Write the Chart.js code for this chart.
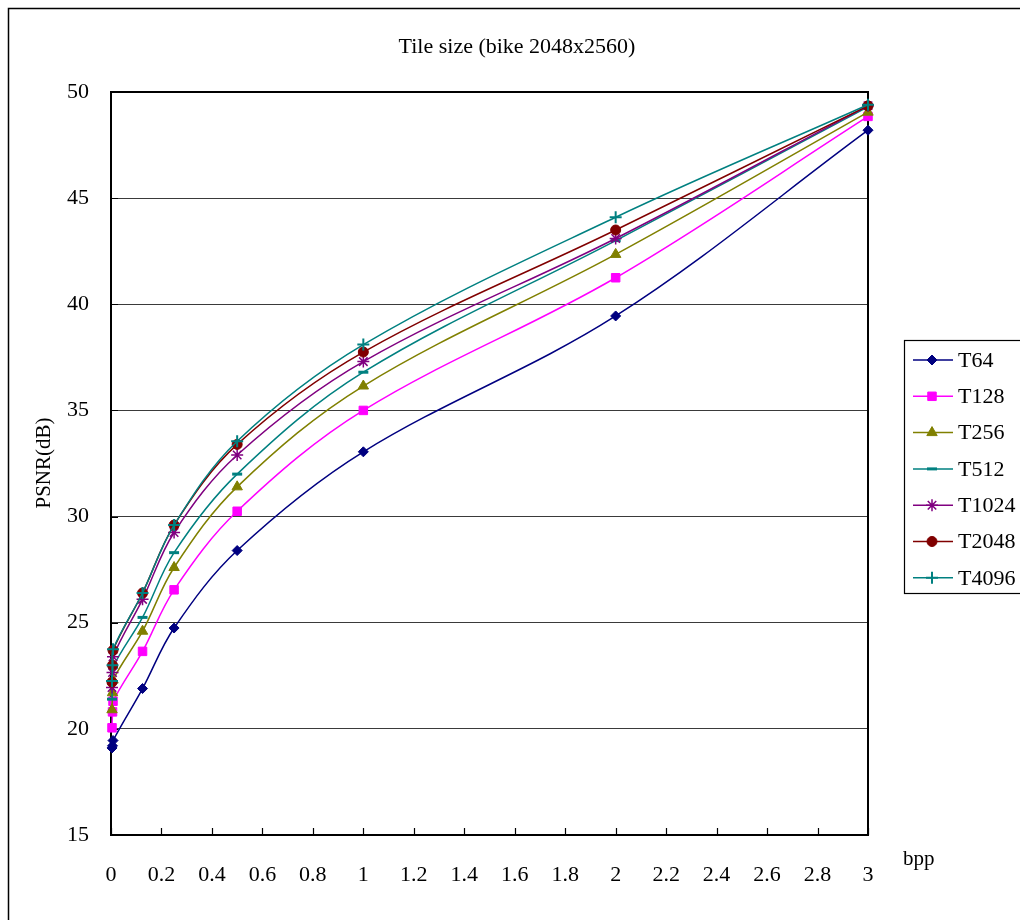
<!DOCTYPE html>
<html>
<head>
<meta charset="utf-8">
<title>Tile size (bike 2048x2560)</title>
<script src="https://cdn.jsdelivr.net/npm/chart.js@4.4.1/dist/chart.umd.min.js"></script>
<style>
  html, body { margin: 0; padding: 0; background: #fff; }
  #wrap { width: 1020px; height: 920px; }
</style>
</head>
<body>
<div id="wrap"><canvas id="chart" width="1020" height="920"></canvas></div>
<script>
// bpp values (first three sit right against the y axis)
var BPP = [0.004, 0.006, 0.008, 0.125, 0.25, 0.5, 1, 2, 3];

var T64   = [19.1, 19.2, 19.45, 21.9, 24.75, 28.4, 33.05, 39.45, 48.2];
var T128  = [20.05, 20.8, 21.3, 23.65, 26.55, 30.25, 35.0, 41.25, 48.85];
var T256  = [20.9, 21.7, 22.3, 24.6, 27.6, 31.4, 36.15, 42.35, 49.05];
var T512  = [21.4, 22.2, 22.9, 25.25, 28.3, 32.0, 36.8, 43.0, 49.3];
var T1024 = [21.95, 22.65, 23.4, 26.1, 29.25, 32.9, 37.3, 43.1, 49.35];
var T2048 = [22.2, 23.0, 23.7, 26.4, 29.6, 33.4, 37.75, 43.5, 49.35];
var T4096 = [22.25, 23.0, 23.75, 26.4, 29.6, 33.55, 38.1, 44.1, 49.4];

var SERIES_NAMES = ['T64', 'T128', 'T256', 'T512', 'T1024', 'T2048', 'T4096'];
var SERIES_DATA = [T64, T128, T256, T512, T1024, T2048, T4096];

var X_MIN = 0, X_MAX = 3, X_STEP = 0.2;
var Y_MIN = 15, Y_MAX = 50, Y_STEP = 5;

var STYLES = [
  { color: '#000080', point: 'rectRot',  radius: 5,   bw: 1 },
  { color: '#ff00ff', point: 'rect',     radius: 6,   bw: 1 },
  { color: '#808000', point: 'triangle', radius: 6,   bw: 1 },
  { color: '#008080', point: 'line',     radius: 5,   bw: 3 },
  { color: '#800080', point: 'star',     radius: 6,   bw: 1.5 },
  { color: '#800000', point: 'circle',   radius: 5,   bw: 1 },
  { color: '#008080', point: 'cross',    radius: 6,   bw: 2 }
];

var FONT = "'Liberation Serif', 'Times New Roman', serif";

function xy(arr) {
  return arr.map(function (v, i) { return { x: BPP[i], y: v }; });
}

var datasets = SERIES_NAMES.map(function (name, i) {
  var s = STYLES[i];
  return {
    label: name,
    data: xy(SERIES_DATA[i]),
    borderColor: s.color,
    backgroundColor: s.color,
    borderWidth: 1.5,
    pointStyle: s.point,
    pointRadius: s.radius,
    pointBorderWidth: s.bw,
    pointBorderColor: s.color,
    pointBackgroundColor: s.color,
    tension: 0.35,
    clip: false,
    order: SERIES_NAMES.length - 1 - i
  };
});

// frame, plot border, inward ticks, titles and legend
var decor = {
  id: 'decor',
  beforeDraw: function (chart) {
    var ctx = chart.ctx;
    ctx.save();
    ctx.fillStyle = '#fff';
    ctx.fillRect(0, 0, chart.width, chart.height);
    ctx.strokeStyle = '#000';
    ctx.lineWidth = 1.5;
    ctx.beginPath();
    ctx.moveTo(8.5, chart.height + 5);
    ctx.lineTo(8.5, 8.5);
    ctx.lineTo(chart.width + 5, 8.5);
    ctx.stroke();
    ctx.restore();
  },
  beforeDatasetsDraw: function (chart) {
    var ctx = chart.ctx, a = chart.chartArea;
    var xs = chart.scales.x, ys = chart.scales.y;
    ctx.save();
    ctx.strokeStyle = '#000';
    ctx.lineWidth = 2;
    ctx.strokeRect(a.left, a.top, a.right - a.left, a.bottom - a.top);
    ctx.lineWidth = 1.2;
    ctx.beginPath();
    xs.ticks.forEach(function (t) {
      var px = Math.round(xs.getPixelForValue(t.value)) + 0.5;
      ctx.moveTo(px, a.bottom);
      ctx.lineTo(px, a.bottom - 7);
    });
    ys.ticks.forEach(function (t) {
      var py = Math.round(ys.getPixelForValue(t.value)) + 0.5;
      ctx.moveTo(a.left, py);
      ctx.lineTo(a.left + 7, py);
    });
    ctx.stroke();
    ctx.restore();
  },
  afterDraw: function (chart) {
    var ctx = chart.ctx;
    ctx.save();
    ctx.fillStyle = '#000';
    ctx.font = '22px ' + FONT;
    ctx.textAlign = 'center';
    ctx.textBaseline = 'middle';
    ctx.fillText('Tile size (bike 2048x2560)', 517, 47);

    ctx.font = '21px ' + FONT;
    ctx.textAlign = 'left';
    ctx.fillText('bpp', 903, 859);

    ctx.save();
    ctx.translate(44, 463);
    ctx.rotate(-Math.PI / 2);
    ctx.textAlign = 'center';
    ctx.fillText('PSNR(dB)', 0, 0);
    ctx.restore();

    // legend box
    ctx.strokeStyle = '#000';
    ctx.lineWidth = 1.2;
    ctx.strokeRect(904.5, 340.5, 200, 253);
    chart.data.datasets.forEach(function (ds, i) {
      var y = 360 + i * 36.3;
      ctx.strokeStyle = ds.borderColor;
      ctx.lineWidth = 1.5;
      ctx.beginPath();
      ctx.moveTo(913, y);
      ctx.lineTo(953, y);
      ctx.stroke();
      ctx.fillStyle = ds.pointBackgroundColor;
      ctx.strokeStyle = ds.pointBorderColor;
      ctx.lineWidth = ds.pointBorderWidth;
      Chart.helpers.drawPoint(ctx, {
        pointStyle: ds.pointStyle,
        radius: ds.pointRadius,
        borderWidth: ds.pointBorderWidth,
        rotation: 0
      }, 932, y);
      ctx.fillStyle = '#000';
      ctx.textAlign = 'left';
      ctx.textBaseline = 'middle';
      ctx.font = '22px ' + FONT;
      ctx.fillText(ds.label, 958, y + 1);
    });
    ctx.restore();
  }
};

new Chart(document.getElementById('chart'), {
  type: 'line',
  data: { datasets: datasets },
  options: {
    responsive: false,
    animation: false,
    devicePixelRatio: 1,
    layout: { padding: { top: 92, right: 152, left: 0, bottom: 0 } },
    plugins: {
      legend: { display: false },
      title: { display: false },
      tooltip: { enabled: false }
    },
    scales: {
      x: {
        type: 'linear',
        min: X_MIN,
        max: X_MAX,
        ticks: {
          stepSize: X_STEP,
          color: '#000',
          font: { family: FONT, size: 22 },
          padding: 19,
          maxRotation: 0,
          autoSkip: false,
          callback: function (v) { return String(Math.round(v * 10) / 10); }
        },
        grid: { display: false },
        border: { display: true, color: '#000', width: 2 },
        afterFit: function (s) { s.height = 85; }
      },
      y: {
        min: Y_MIN,
        max: Y_MAX,
        ticks: {
          stepSize: Y_STEP,
          color: '#000',
          font: { family: FONT, size: 22 },
          padding: 22
        },
        grid: { color: '#3a3a3a', lineWidth: 1, drawTicks: false },
        border: { display: true, color: '#000', width: 2 },
        afterFit: function (s) { s.width = 111; }
      }
    }
  },
  plugins: [decor]
});
</script>
</body>
</html>
